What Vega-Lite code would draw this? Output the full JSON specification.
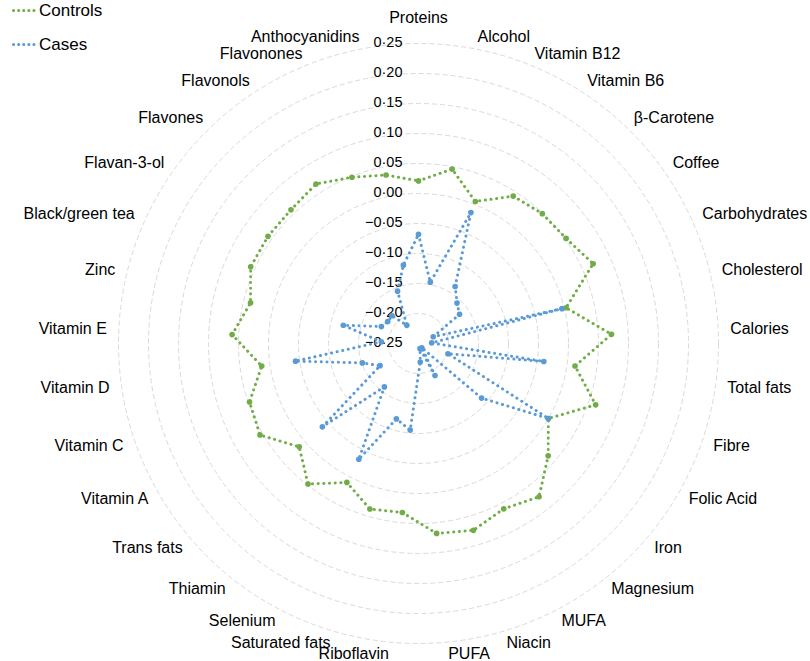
{
  "$schema": "https://vega.github.io/schema/vega-lite/v6.json",
  "width": 810,
  "height": 661,
  "autosize": {"type": "none"},
  "padding": 0,
  "background": "white",
  "config": {"view": {"stroke": null}, "font": "Liberation Sans"},
  "datasets": {
    "nutrients": [
      {"nutrient": "Proteins", "Controls": 0.021, "Cases": -0.068},
      {"nutrient": "Alcohol", "Controls": 0.046, "Cases": -0.146},
      {"nutrient": "Vitamin B12", "Controls": 0.005, "Cases": -0.015},
      {"nutrient": "Vitamin B6", "Controls": 0.042, "Cases": -0.137},
      {"nutrient": "β-Carotene", "Controls": 0.049, "Cases": -0.157},
      {"nutrient": "Coffee", "Controls": 0.052, "Cases": -0.166},
      {"nutrient": "Carbohydrates", "Controls": 0.070, "Cases": -0.223},
      {"nutrient": "Cholesterol", "Controls": 0.003, "Cases": -0.004},
      {"nutrient": "Calories", "Controls": 0.072, "Cases": -0.228},
      {"nutrient": "Total fats", "Controls": 0.0135, "Cases": -0.039},
      {"nutrient": "Fibre", "Controls": 0.0625, "Cases": -0.198},
      {"nutrient": "Folic Acid", "Controls": 0.000, "Cases": 0.000},
      {"nutrient": "Iron", "Controls": 0.036, "Cases": -0.111},
      {"nutrient": "Magnesium", "Controls": 0.075, "Cases": -0.241},
      {"nutrient": "MUFA", "Controls": 0.060, "Cases": -0.190},
      {"nutrient": "Niacin", "Controls": 0.0745, "Cases": -0.241},
      {"nutrient": "PUFA", "Controls": 0.068, "Cases": -0.219},
      {"nutrient": "Riboflavin", "Controls": 0.033, "Cases": -0.105},
      {"nutrient": "Saturated fats", "Controls": 0.0375, "Cases": -0.119},
      {"nutrient": "Selenium", "Controls": 0.0105, "Cases": -0.033},
      {"nutrient": "Thiamin", "Controls": 0.048, "Cases": -0.158},
      {"nutrient": "Trans fats", "Controls": 0.013, "Cases": -0.038},
      {"nutrient": "Vitamin A", "Controls": 0.055, "Cases": -0.176},
      {"nutrient": "Vitamin C", "Controls": 0.048, "Cases": -0.151},
      {"nutrient": "Vitamin D", "Controls": 0.014, "Cases": -0.043},
      {"nutrient": "Vitamin E", "Controls": 0.061, "Cases": -0.188},
      {"nutrient": "Zinc", "Controls": 0.038, "Cases": -0.121},
      {"nutrient": "Black/green tea", "Controls": 0.0575, "Cases": -0.182},
      {"nutrient": "Flavan-3-ol", "Controls": 0.058, "Cases": -0.187},
      {"nutrient": "Flavones", "Controls": 0.058, "Cases": -0.186},
      {"nutrient": "Flavonols", "Controls": 0.066, "Cases": -0.214},
      {"nutrient": "Flavonones", "Controls": 0.0485, "Cases": -0.156},
      {"nutrient": "Anthocyanidins", "Controls": 0.036, "Cases": -0.117}
    ],
    "grid": [
      {"v": -0.25}, {"v": -0.2}, {"v": -0.15}, {"v": -0.1}, {"v": -0.05}, {"v": 0},
      {"v": 0.05}, {"v": 0.1}, {"v": 0.15}, {"v": 0.2}, {"v": 0.25}
    ]
  },
  "layer": [
    {
      "data": {"name": "grid"},
      "transform": [
        {"filter": "datum.v > -0.25"},
        {"calculate": "pow(2 * (datum.v + 0.25) * 600, 2)", "as": "sz"}
      ],
      "mark": {"type": "point", "shape": "circle", "filled": false, "stroke": "#d9d9d9", "strokeWidth": 1, "strokeDash": [5, 3], "opacity": 1},
      "encoding": {
        "x": {"datum": 0, "type": "quantitative", "scale": {"domain": [-0.6975, 0.6525], "nice": false, "zero": false}, "axis": null},
        "y": {"datum": 0, "type": "quantitative", "scale": {"domain": [-0.529167, 0.5725], "nice": false, "zero": false}, "axis": null},
        "size": {"field": "sz", "type": "quantitative", "scale": null, "legend": null}
      }
    },
    {
      "data": {"name": "grid"},
      "transform": [
        {"calculate": "datum.v + 0.25", "as": "yv"},
        {"calculate": "replace(format(datum.v, '.2f'), '.', '·')", "as": "lab"}
      ],
      "mark": {"type": "text", "align": "right", "baseline": "middle", "dx": -16, "fontSize": 14.5, "color": "black", "font": "Liberation Sans"},
      "encoding": {
        "x": {"datum": 0, "type": "quantitative", "scale": {"domain": [-0.6975, 0.6525], "nice": false, "zero": false}, "axis": null},
        "y": {"field": "yv", "type": "quantitative", "scale": {"domain": [-0.529167, 0.5725], "nice": false, "zero": false}, "axis": null},
        "text": {"field": "lab"}
      }
    },
    {
      "data": {"name": "nutrients"},
      "transform": [
        {"window": [{"op": "row_number", "as": "k"}]},
        {"calculate": "(datum.k - 1) * 2 * PI / 33", "as": "th"},
        {"fold": ["Controls", "Cases"], "as": ["group", "value"]},
        {"calculate": "datum.value + 0.25", "as": "r"},
        {"calculate": "datum.r * sin(datum.th)", "as": "x"},
        {"calculate": "datum.r * cos(datum.th)", "as": "y"}
      ],
      "mark": {"type": "line", "interpolate": "linear-closed", "strokeWidth": 3, "strokeDash": [0.1, 5.6], "strokeCap": "round"},
      "encoding": {
        "x": {"field": "x", "type": "quantitative", "scale": {"domain": [-0.6975, 0.6525], "nice": false, "zero": false}, "axis": null},
        "y": {"field": "y", "type": "quantitative", "scale": {"domain": [-0.529167, 0.5725], "nice": false, "zero": false}, "axis": null},
        "order": {"field": "k", "type": "quantitative"},
        "color": {
          "field": "group", "type": "nominal",
          "scale": {"domain": ["Controls", "Cases"], "range": ["#70AD47", "#5B9BD5"]},
          "legend": {
            "orient": "none", "legendX": 12, "legendY": -2, "title": null,
            "labelFontSize": 17, "labelFont": "Liberation Sans", "labelColor": "black",
            "symbolType": "stroke", "symbolSize": 484, "symbolStrokeWidth": 3,
            "symbolDash": [0.1, 5], "rowPadding": 13, "labelOffset": 2, "padding": 0,
            "symbolOpacity": 1,
            "encode": {"symbols": {"update": {"strokeCap": {"value": "round"}, "strokeDash": {"value": [0.1, 5]}, "strokeWidth": {"value": 3}}}}
          }
        }
      }
    },
    {
      "data": {"name": "nutrients"},
      "transform": [
        {"window": [{"op": "row_number", "as": "k"}]},
        {"calculate": "(datum.k - 1) * 2 * PI / 33", "as": "th"},
        {"fold": ["Controls", "Cases"], "as": ["group", "value"]},
        {"calculate": "datum.value + 0.25", "as": "r"},
        {"calculate": "datum.r * sin(datum.th)", "as": "x"},
        {"calculate": "datum.r * cos(datum.th)", "as": "y"}
      ],
      "mark": {"type": "circle", "size": 32, "opacity": 1},
      "encoding": {
        "x": {"field": "x", "type": "quantitative", "scale": {"domain": [-0.6975, 0.6525], "nice": false, "zero": false}, "axis": null},
        "y": {"field": "y", "type": "quantitative", "scale": {"domain": [-0.529167, 0.5725], "nice": false, "zero": false}, "axis": null},
        "color": {"field": "group", "type": "nominal", "scale": {"domain": ["Controls", "Cases"], "range": ["#70AD47", "#5B9BD5"]}, "legend": null}
      }
    },
    {
      "data": {"name": "nutrients"},
      "transform": [
        {"window": [{"op": "row_number", "as": "k"}]},
        {"calculate": "(datum.k - 1) * 2 * PI / 33", "as": "th"},
        {"filter": "sin(datum.th) > 0.01"},
        {"calculate": "0.52 * sin(datum.th)", "as": "lx"},
        {"calculate": "0.52 * cos(datum.th)", "as": "ly"}
      ],
      "mark": {"type": "text", "align": "left", "baseline": "middle", "fontSize": 16, "color": "black", "font": "Liberation Sans"},
      "encoding": {
        "x": {"field": "lx", "type": "quantitative", "scale": {"domain": [-0.6975, 0.6525], "nice": false, "zero": false}, "axis": null},
        "y": {"field": "ly", "type": "quantitative", "scale": {"domain": [-0.529167, 0.5725], "nice": false, "zero": false}, "axis": null},
        "text": {"field": "nutrient"}
      }
    },
    {
      "data": {"name": "nutrients"},
      "transform": [
        {"window": [{"op": "row_number", "as": "k"}]},
        {"calculate": "(datum.k - 1) * 2 * PI / 33", "as": "th"},
        {"filter": "sin(datum.th) < -0.01"},
        {"calculate": "0.52 * sin(datum.th)", "as": "lx"},
        {"calculate": "0.52 * cos(datum.th)", "as": "ly"}
      ],
      "mark": {"type": "text", "align": "right", "baseline": "middle", "fontSize": 16, "color": "black", "font": "Liberation Sans"},
      "encoding": {
        "x": {"field": "lx", "type": "quantitative", "scale": {"domain": [-0.6975, 0.6525], "nice": false, "zero": false}, "axis": null},
        "y": {"field": "ly", "type": "quantitative", "scale": {"domain": [-0.529167, 0.5725], "nice": false, "zero": false}, "axis": null},
        "text": {"field": "nutrient"}
      }
    },
    {
      "data": {"name": "nutrients"},
      "transform": [
        {"window": [{"op": "row_number", "as": "k"}]},
        {"filter": "datum.k == 1"},
        {"calculate": "0", "as": "lx"},
        {"calculate": "0.5417", "as": "ly"}
      ],
      "mark": {"type": "text", "align": "center", "baseline": "middle", "fontSize": 16, "color": "black", "font": "Liberation Sans"},
      "encoding": {
        "x": {"field": "lx", "type": "quantitative", "scale": {"domain": [-0.6975, 0.6525], "nice": false, "zero": false}, "axis": null},
        "y": {"field": "ly", "type": "quantitative", "scale": {"domain": [-0.529167, 0.5725], "nice": false, "zero": false}, "axis": null},
        "text": {"field": "nutrient"}
      }
    }
  ]
}
